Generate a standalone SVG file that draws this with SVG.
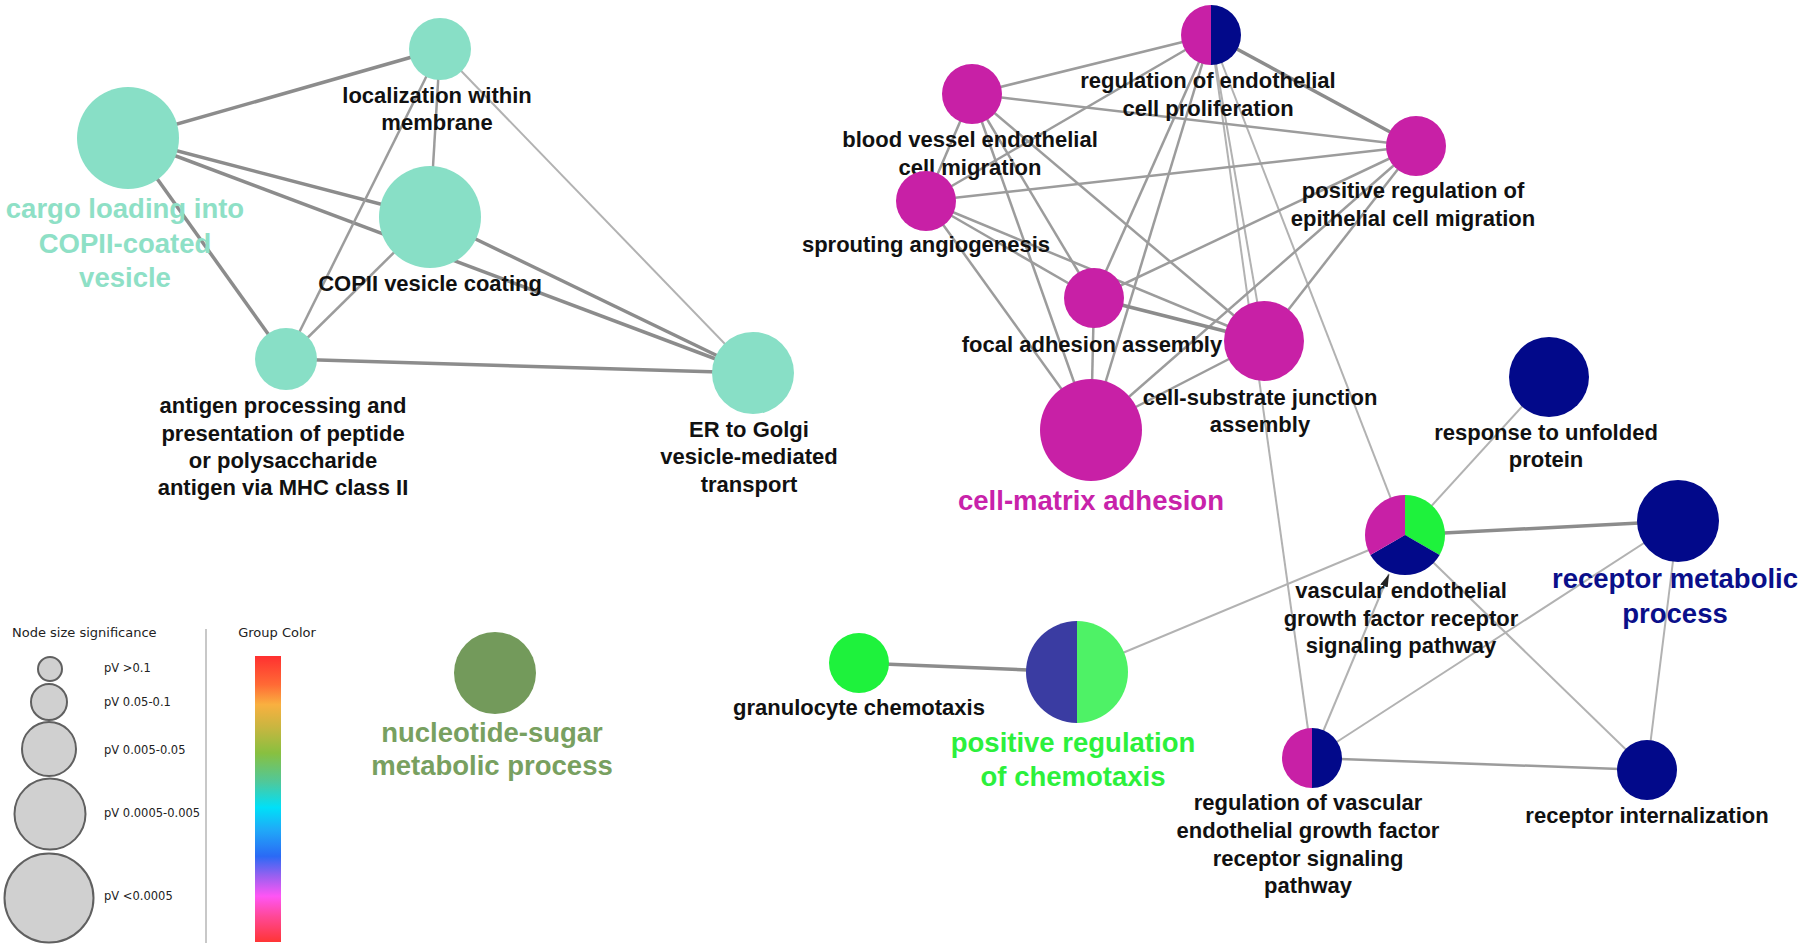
<svg xmlns="http://www.w3.org/2000/svg" width="1800" height="951" viewBox="0 0 1800 951">
<style>
.e1{stroke:#b2b2b2;stroke-width:2;fill:none}
.e2{stroke:#9c9c9c;stroke-width:2.5;fill:none}
.e3{stroke:#8c8c8c;stroke-width:3.5;fill:none}
.lbl{font-family:"Liberation Sans",Arial,sans-serif;font-weight:bold;font-size:22px;fill:#111;text-anchor:middle}
.big{font-family:"Liberation Sans",Arial,sans-serif;font-weight:bold;font-size:27.5px;text-anchor:middle}
.leg{font-family:"DejaVu Sans",sans-serif;font-size:13px;fill:#222}
.pv{font-family:"DejaVu Sans",sans-serif;font-size:11.5px;fill:#222}
.teal{fill:#88dfc6}
.mag{fill:#c820a6}
.navy{fill:#02098a}
.grn{fill:#1ef23c}
.lg{fill:#d0d0d0;stroke:#606060;stroke-width:2}
</style>
<defs>
<linearGradient id="cbar" x1="0" y1="0" x2="0" y2="1">
<stop offset="0" stop-color="#ff3030"/>
<stop offset="0.10" stop-color="#ff6a35"/>
<stop offset="0.17" stop-color="#f9b040"/>
<stop offset="0.25" stop-color="#c8b640"/>
<stop offset="0.34" stop-color="#88c040"/>
<stop offset="0.44" stop-color="#50c89a"/>
<stop offset="0.53" stop-color="#00e0f8"/>
<stop offset="0.61" stop-color="#20a8f8"/>
<stop offset="0.70" stop-color="#2a6af5"/>
<stop offset="0.77" stop-color="#9a60f0"/>
<stop offset="0.84" stop-color="#ff55f5"/>
<stop offset="0.91" stop-color="#ff4898"/>
<stop offset="1" stop-color="#ff3535"/>
</linearGradient>
<marker id="arr" markerUnits="userSpaceOnUse" markerWidth="13" markerHeight="8" viewBox="0 0 13 8" refX="13" refY="4" orient="auto">
<path d="M0,0 L13,4 L0,8 z" fill="#222"/>
</marker>
</defs>
<rect width="1800" height="951" fill="#ffffff"/>

<g id="edges">
<line class="e3" x1="128" y1="138" x2="440" y2="49"/>
<line class="e3" x1="128" y1="138" x2="430" y2="217"/>
<line class="e3" x1="128" y1="138" x2="753" y2="373"/>
<line class="e3" x1="128" y1="138" x2="286" y2="359"/>
<line class="e2" x1="440" y1="49" x2="286" y2="359"/>
<line class="e2" x1="440" y1="49" x2="430" y2="217"/>
<line class="e1" x1="440" y1="49" x2="753" y2="373"/>
<line class="e2" x1="430" y1="217" x2="286" y2="359"/>
<line class="e3" x1="430" y1="217" x2="753" y2="373"/>
<line class="e3" x1="286" y1="359" x2="753" y2="373"/>

<line class="e2" x1="1211" y1="35" x2="972" y2="94"/>
<line class="e3" x1="1211" y1="35" x2="1416" y2="146"/>
<line class="e2" x1="1211" y1="35" x2="926" y2="201"/>
<line class="e2" x1="1211" y1="35" x2="1094" y2="298"/>
<line class="e2" x1="1211" y1="35" x2="1091" y2="430"/>
<line class="e1" x1="1211" y1="35" x2="1264" y2="341"/>
<line class="e1" x1="1211" y1="35" x2="1312" y2="758"/>
<line class="e1" x1="1211" y1="35" x2="1405" y2="535"/>
<line class="e2" x1="972" y1="94" x2="1416" y2="146"/>
<line class="e2" x1="972" y1="94" x2="926" y2="201"/>
<line class="e2" x1="972" y1="94" x2="1094" y2="298"/>
<line class="e2" x1="972" y1="94" x2="1264" y2="341"/>
<line class="e2" x1="972" y1="94" x2="1091" y2="430"/>
<line class="e2" x1="926" y1="201" x2="1416" y2="146"/>
<line class="e2" x1="926" y1="201" x2="1094" y2="298"/>
<line class="e2" x1="926" y1="201" x2="1264" y2="341"/>
<line class="e2" x1="926" y1="201" x2="1091" y2="430"/>
<line class="e2" x1="1416" y1="146" x2="1094" y2="298"/>
<line class="e2" x1="1416" y1="146" x2="1264" y2="341"/>
<line class="e2" x1="1416" y1="146" x2="1091" y2="430"/>
<line class="e3" x1="1094" y1="298" x2="1264" y2="341"/>
<line class="e2" x1="1094" y1="298" x2="1091" y2="430"/>
<line class="e2" x1="1264" y1="341" x2="1091" y2="430"/>

<line class="e1" x1="1405" y1="535" x2="1549" y2="377"/>
<line class="e3" x1="1405" y1="535" x2="1678" y2="521"/>
<line class="e1" x1="1405" y1="535" x2="1077" y2="672"/>
<line class="e1" x1="1405" y1="535" x2="1647" y2="770"/>
<line class="e1" x1="1312" y1="758" x2="1389" y2="574" marker-end="url(#arr)"/>
<line class="e1" x1="1312" y1="758" x2="1678" y2="521"/>
<line class="e2" x1="1312" y1="758" x2="1647" y2="770"/>
<line class="e1" x1="1678" y1="521" x2="1647" y2="770"/>
<line class="e3" x1="859" y1="663" x2="1077" y2="672"/>
</g>

<g id="n-cargo">
<circle class="teal" cx="128" cy="138" r="51"/>
<text class="big" fill="#8ee0c6"><tspan x="125" y="218">cargo loading into</tspan><tspan x="125" y="253">COPII-coated</tspan><tspan x="125" y="287">vesicle</tspan></text>
</g>
<g id="n-localization">
<circle class="teal" cx="440" cy="49" r="31"/>
<text class="lbl"><tspan x="437" y="103">localization within</tspan><tspan x="437" y="130">membrane</tspan></text>
</g>
<g id="n-copii">
<circle class="teal" cx="430" cy="217" r="51"/>
<text class="lbl" x="430" y="291">COPII vesicle coating</text>
</g>
<g id="n-antigen">
<circle class="teal" cx="286" cy="359" r="31"/>
<text class="lbl"><tspan x="283" y="413">antigen processing and</tspan><tspan x="283" y="441">presentation of peptide</tspan><tspan x="283" y="468">or polysaccharide</tspan><tspan x="283" y="495">antigen via MHC class II</tspan></text>
</g>
<g id="n-ergolgi">
<circle class="teal" cx="753" cy="373" r="41"/>
<text class="lbl"><tspan x="749" y="437">ER to Golgi</tspan><tspan x="749" y="464">vesicle-mediated</tspan><tspan x="749" y="492">transport</tspan></text>
</g>

<g id="n-reg-endo-prolif">
<path class="mag" d="M1211,5 A30,30 0 0 0 1211,65 Z"/>
<path class="navy" d="M1211,5 A30,30 0 0 1 1211,65 Z"/>
<text class="lbl"><tspan x="1208" y="88">regulation of endothelial</tspan><tspan x="1208" y="116">cell proliferation</tspan></text>
</g>
<g id="n-blood-vessel">
<circle class="mag" cx="972" cy="94" r="30"/>
<text class="lbl"><tspan x="970" y="147">blood vessel endothelial</tspan><tspan x="970" y="175">cell migration</tspan></text>
</g>
<g id="n-pos-reg-epi">
<circle class="mag" cx="1416" cy="146" r="30"/>
<text class="lbl"><tspan x="1413" y="198">positive regulation of</tspan><tspan x="1413" y="226">epithelial cell migration</tspan></text>
</g>
<g id="n-sprouting">
<circle class="mag" cx="926" cy="201" r="30"/>
<text class="lbl" x="926" y="252">sprouting angiogenesis</text>
</g>
<g id="n-focal">
<circle class="mag" cx="1094" cy="298" r="30"/>
<text class="lbl" x="1092" y="352">focal adhesion assembly</text>
</g>
<g id="n-cell-substrate">
<circle class="mag" cx="1264" cy="341" r="40"/>
<text class="lbl"><tspan x="1260" y="405">cell-substrate junction</tspan><tspan x="1260" y="432">assembly</tspan></text>
</g>
<g id="n-cell-matrix">
<circle class="mag" cx="1091" cy="430" r="51"/>
<text class="big" fill="#c822aa" x="1091" y="510">cell-matrix adhesion</text>
</g>
<g id="n-unfolded">
<circle class="navy" cx="1549" cy="377" r="40"/>
<text class="lbl"><tspan x="1546" y="440">response to unfolded</tspan><tspan x="1546" y="467">protein</tspan></text>
</g>
<g id="n-vegf">
<path class="grn" d="M1405,535 L1405,495 A40,40 0 0 1 1439.64,555 Z"/>
<path class="navy" d="M1405,535 L1439.64,555 A40,40 0 0 1 1370.36,555 Z"/>
<path class="mag" d="M1405,535 L1370.36,555 A40,40 0 0 1 1405,495 Z"/>
<text class="lbl"><tspan x="1401" y="598">vascular endothelial</tspan><tspan x="1401" y="626">growth factor receptor</tspan><tspan x="1401" y="653">signaling pathway</tspan></text>
</g>
<g id="n-receptor-metabolic">
<circle class="navy" cx="1678" cy="521" r="41"/>
<text class="big" fill="#0a0f8a"><tspan x="1675" y="588">receptor metabolic</tspan><tspan x="1675" y="623">process</tspan></text>
</g>
<g id="n-granulocyte">
<circle class="grn" cx="859" cy="663" r="30"/>
<text class="lbl" x="859" y="715">granulocyte chemotaxis</text>
</g>
<g id="n-pos-reg-chemo">
<path fill="#3a3ca2" d="M1077,621 A51,51 0 0 0 1077,723 Z"/>
<path fill="#4ef266" d="M1077,621 A51,51 0 0 1 1077,723 Z"/>
<text class="big" fill="#2cf03c"><tspan x="1073" y="752">positive regulation</tspan><tspan x="1073" y="786">of chemotaxis</tspan></text>
</g>
<g id="n-reg-vegf">
<path class="mag" d="M1312,728 A30,30 0 0 0 1312,788 Z"/>
<path class="navy" d="M1312,728 A30,30 0 0 1 1312,788 Z"/>
<text class="lbl"><tspan x="1308" y="810">regulation of vascular</tspan><tspan x="1308" y="838">endothelial growth factor</tspan><tspan x="1308" y="866">receptor signaling</tspan><tspan x="1308" y="893">pathway</tspan></text>
</g>
<g id="n-receptor-intern">
<circle class="navy" cx="1647" cy="770" r="30"/>
<text class="lbl" x="1647" y="823">receptor internalization</text>
</g>
<g id="n-nucleotide">
<circle fill="#739a5b" cx="495" cy="673" r="41"/>
<text class="big" fill="#78a060"><tspan x="492" y="742">nucleotide-sugar</tspan><tspan x="492" y="775">metabolic process</tspan></text>
</g>

<g id="legend">
<text class="leg" x="12" y="637">Node size significance</text>
<text class="leg" x="277" y="637" text-anchor="middle">Group Color</text>
<line x1="206" y1="629" x2="206" y2="943" stroke="#c8c8c8" stroke-width="2"/>
<circle class="lg" cx="50" cy="669" r="12"/>
<circle class="lg" cx="49" cy="702" r="18"/>
<circle class="lg" cx="49" cy="749" r="27"/>
<circle class="lg" cx="50" cy="814" r="35.5"/>
<circle class="lg" cx="49" cy="898" r="44.5"/>
<text class="pv" x="104" y="672">pV &gt;0.1</text>
<text class="pv" x="104" y="706">pV 0.05-0.1</text>
<text class="pv" x="104" y="754">pV 0.005-0.05</text>
<text class="pv" x="104" y="817">pV 0.0005-0.005</text>
<text class="pv" x="104" y="900">pV &lt;0.0005</text>
<rect x="255" y="656" width="26" height="286" fill="url(#cbar)"/>
</g>
</svg>
